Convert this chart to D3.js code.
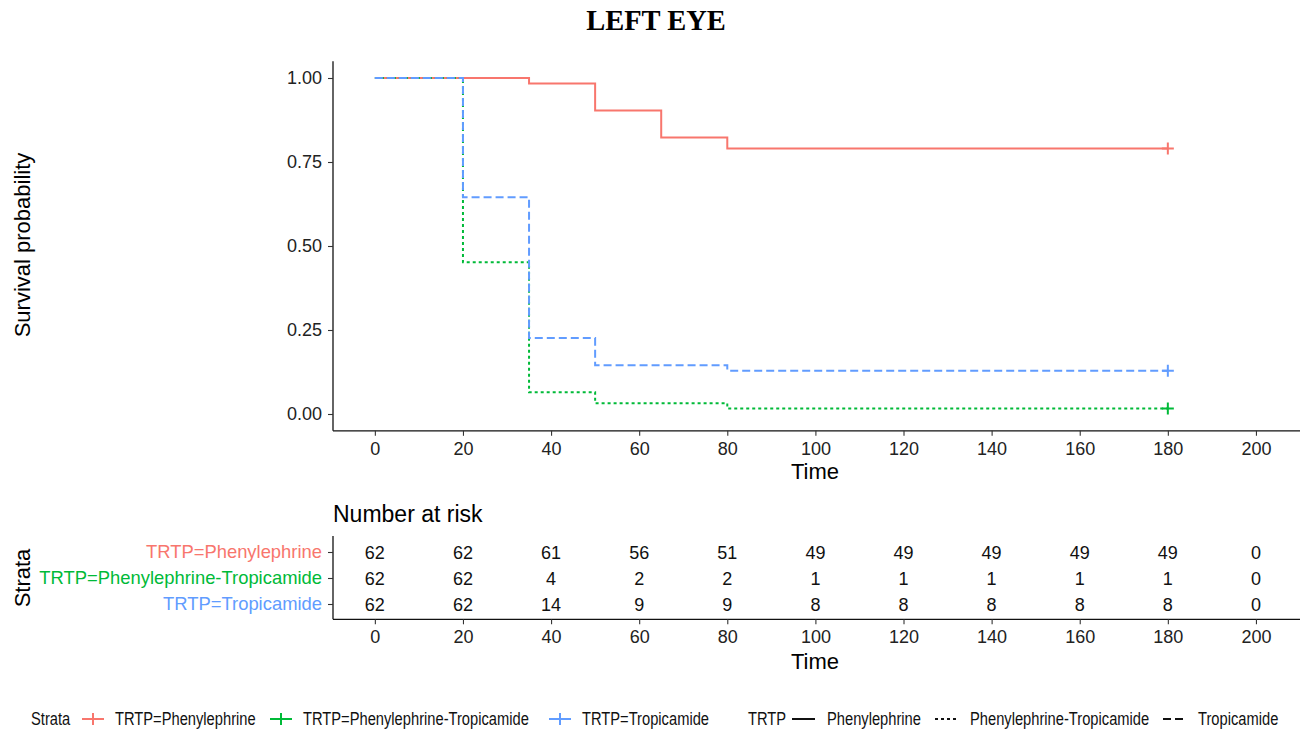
<!DOCTYPE html>
<html>
<head>
<meta charset="utf-8">
<script src="https://cdn.jsdelivr.net/npm/d3@7"></script>
<style>
  body { margin: 0; background: #fff; }
  svg text { font-family: "Liberation Sans", Arial, sans-serif; }
</style>
</head>
<body>
<svg id="chart" width="1303" height="733"></svg>
<script>
// strata and colours
const strata = ["TRTP=Phenylephrine", "TRTP=Phenylephrine-Tropicamide", "TRTP=Tropicamide"];
const shortNames = ["Phenylephrine", "Phenylephrine-Tropicamide", "Tropicamide"];
const colors = ["#F8766D", "#00BA38", "#619CFF"];
const dashes = [null, "3,3", "8,4"];

// step times and survival (from number at risk)
const phenTimes = [0, 35, 50, 65, 80, 180];
const phenSurv = [1, 0.984, 0.903, 0.823, 0.790, 0.790];
const comboTimes = [0, 20, 35, 50, 80, 180];
const comboSurv = [1, 0.452, 0.065, 0.032, 0.016, 0.016];
const tropTimes = [0, 20, 35, 50, 80, 180];
const tropSurv = [1, 0.645, 0.226, 0.145, 0.129, 0.129];

const riskTimes = [0, 20, 40, 60, 80, 100, 120, 140, 160, 180, 200];
const phenRisk = [62, 62, 61, 56, 51, 49, 49, 49, 49, 49, 0];
const comboRisk = [62, 62, 4, 2, 2, 1, 1, 1, 1, 1, 0];
const tropRisk = [62, 62, 14, 9, 9, 8, 8, 8, 8, 8, 0];

const curves = [
  { times: phenTimes, surv: phenSurv },
  { times: comboTimes, surv: comboSurv },
  { times: tropTimes, surv: tropSurv }
];
const risks = [phenRisk, comboRisk, tropRisk];

const svg = d3.select("#chart");

const left = 333, right = 1300;

const x = d3.scaleLinear().domain([-9.5, 210]).range([left, right]);
const y = d3.scaleLinear().domain([-0.05, 1.05]).range([430.8, 61.2]);

// title
svg.append("text")
    .attr("x", 656).attr("y", 30)
    .attr("text-anchor", "middle")
    .style("font-family", "'Liberation Serif', 'Times New Roman', serif")
    .style("font-weight", "bold")
    .style("font-size", "28.5px")
    .text("LEFT EYE");

function styleAxis(a) {
    a.selectAll("text").style("font-size", "18px").attr("fill", "#222");
    a.selectAll("line").attr("stroke", "#333").attr("stroke-width", 1.1);
    a.select(".domain").attr("stroke", "#111").attr("stroke-width", 1.3);
}

// main axes
const xAxis = svg.append("g")
    .attr("transform", "translate(0,430.8)")
    .call(d3.axisBottom(x).tickValues(riskTimes).tickSize(5).tickPadding(6));
const yAxis = svg.append("g")
    .attr("transform", `translate(${left},0)`)
    .call(d3.axisLeft(y).tickValues([0, 0.25, 0.5, 0.75, 1]).tickFormat(d3.format(".2f")).tickSize(5).tickPadding(6));
styleAxis(xAxis);
styleAxis(yAxis);
xAxis.select(".domain").attr("d", `M${left},0H${right}`);
yAxis.select(".domain").attr("d", "M0,61.2V430.8");

svg.append("text")
    .attr("x", 815).attr("y", 479)
    .attr("text-anchor", "middle")
    .style("font-size", "22px")
    .text("Time");

svg.append("text")
    .attr("transform", "translate(30,245) rotate(-90)")
    .attr("text-anchor", "middle")
    .style("font-size", "22px")
    .text("Survival probability");

// survival curves
const line = d3.line()
    .x(d => x(d[0]))
    .y(d => y(d[1]))
    .curve(d3.curveStepAfter);

curves.forEach((c, i) => {
    const pts = c.times.map((t, j) => [t, c.surv[j]]);
    svg.append("path")
        .attr("d", line(pts))
        .attr("fill", "none")
        .attr("stroke", colors[i])
        .attr("stroke-width", 2)
        .attr("stroke-dasharray", dashes[i]);
    // censor mark
    const last = pts[pts.length - 1];
    const cx = x(last[0]), cy = y(last[1]);
    svg.append("path")
        .attr("d", `M${cx - 6},${cy}H${cx + 6}M${cx},${cy - 6}V${cy + 6}`)
        .attr("stroke", colors[i])
        .attr("stroke-width", 2);
});

// risk table
const ry = d3.scalePoint().domain(strata).range([552, 604]);
const tableTop = 536, tableBottom = 619.3;

svg.append("text")
    .attr("x", left).attr("y", 522)
    .style("font-size", "23px")
    .text("Number at risk");

const rx = svg.append("g")
    .attr("transform", `translate(0,${tableBottom})`)
    .call(d3.axisBottom(x).tickValues(riskTimes).tickSize(5).tickPadding(6));
const rl = svg.append("g")
    .attr("transform", `translate(${left},0)`)
    .call(d3.axisLeft(ry).tickSize(5).tickPadding(6));
styleAxis(rx);
styleAxis(rl);
rx.select(".domain").attr("d", `M${left},0H${right}`);
rl.select(".domain").attr("d", `M0,${tableTop}V${tableBottom}`);
rl.selectAll(".tick text").attr("fill", (d, i) => colors[i]).style("font-size", "18.4px");

strata.forEach((s, i) => {
    svg.append("g").selectAll("text")
        .data(risks[i])
        .join("text")
        .attr("x", (d, j) => x(riskTimes[j]))
        .attr("y", ry(s))
        .attr("dy", "0.38em")
        .attr("text-anchor", "middle")
        .style("font-size", "18px")
        .attr("fill", "#111")
        .text(d => d);
});

svg.append("text")
    .attr("x", 815).attr("y", 669)
    .attr("text-anchor", "middle")
    .style("font-size", "22px")
    .text("Time");

svg.append("text")
    .attr("transform", "translate(30,578) rotate(-90)")
    .attr("text-anchor", "middle")
    .style("font-size", "22px")
    .text("Strata");

// bottom legends (text is narrower than the rest of the chart)
const legY = 719;
const leg = svg.append("g").style("font-size", "17.5px").attr("fill", "#111");

function legText(tx, label) {
    leg.append("text")
        .attr("transform", `translate(${tx},${legY}) scale(0.84,1)`)
        .attr("dy", "0.36em")
        .text(label);
}

legText(31, "Strata");
const strataX = [82, 270, 549];
strata.forEach((s, i) => {
    const lx = strataX[i];
    leg.append("path")
        .attr("d", `M${lx},${legY}H${lx + 22}M${lx + 11},${legY - 6}V${legY + 6}`)
        .attr("stroke", colors[i]).attr("stroke-width", 2);
    legText(lx + 33, s);
});

legText(748, "TRTP");
const typeX = [792, 935, 1163];
shortNames.forEach((s, i) => {
    const lx = typeX[i];
    leg.append("path")
        .attr("d", `M${lx},${legY}H${lx + 23}`)
        .attr("stroke", "#111").attr("stroke-width", 2)
        .attr("stroke-dasharray", dashes[i]);
    legText(lx + 35, s);
});
</script>
</body>
</html>
